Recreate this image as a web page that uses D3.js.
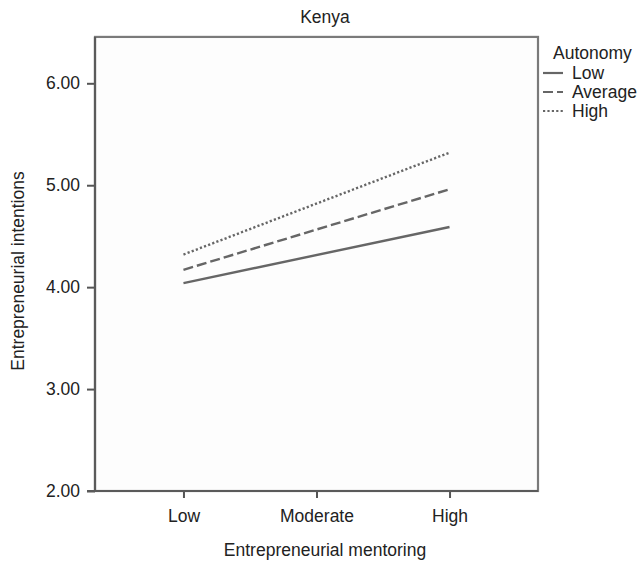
<!DOCTYPE html>
<html>
<head>
<meta charset="utf-8">
<script src="https://cdn.jsdelivr.net/npm/d3@7"></script>
<style>
  html, body { margin: 0; padding: 0; background: #ffffff; }
  svg { display: block; }
  text { font-family: "Liberation Sans", Arial, Helvetica, sans-serif; fill: #222; }
</style>
</head>
<body>
<svg id="chart" width="640" height="562"></svg>
<script>
// Simple-slopes data: entrepreneurial intentions by mentoring level, per autonomy level
const mentoringLevels = ["Low", "Moderate", "High"];
const autonomyLevels = ["Low", "Average", "High"];
const lowAutonomy = [4.04, null, 4.59];
const averageAutonomy = [4.17, null, 4.96];
const highAutonomy = [4.32, null, 5.32];
const yTicks = [2, 3, 4, 5, 6];
const chartTitle = "Kenya";
const xTitle = "Entrepreneurial mentoring";
const yTitle = "Entrepreneurial intentions";
const legendTitle = "Autonomy";

const seriesValues = [lowAutonomy, averageAutonomy, highAutonomy];
const dashes = [null, "10,4", "2.2,2.2"];

const svg = d3.select("#chart");
const fontSize = 17.5;

const x = d3.scalePoint().domain(mentoringLevels).range([95, 538]).padding(0.665);
const y = d3.scaleLinear().domain([2, 6]).range([491, 83.3]);
const yTop = 6.455;

// plot panel
svg.append("rect")
  .attr("x", 95).attr("y", y(yTop))
  .attr("width", 538 - 95).attr("height", y(2) - y(yTop))
  .attr("fill", "#fdfdfd")
  .attr("stroke", "#7a7a7a").attr("stroke-width", 2.2);

// y axis
const yAxis = d3.axisLeft(y).tickValues(yTicks).tickFormat(d3.format(".2f")).tickSize(8).tickPadding(7);
const gy = svg.append("g").attr("transform", "translate(95,0)").call(yAxis);
gy.select(".domain").remove();
gy.selectAll(".tick line").attr("stroke", "#555").attr("stroke-width", 2);
gy.selectAll(".tick text").attr("font-size", fontSize).attr("fill", "#222")
  .style("font-family", "'Liberation Sans', Arial, sans-serif");
svg.append("line").attr("x1", 95).attr("x2", 95).attr("y1", y(yTop)).attr("y2", y(2))
  .attr("stroke", "#5a5a5a").attr("stroke-width", 2.2);

// x axis
const xAxis = d3.axisBottom(x).tickSize(7).tickPadding(12);
const gx = svg.append("g").attr("transform", `translate(0,${y(2)})`).call(xAxis);
gx.select(".domain").remove();
gx.selectAll(".tick line").attr("stroke", "#555").attr("stroke-width", 2);
gx.selectAll(".tick text").attr("font-size", fontSize).attr("fill", "#222")
  .style("font-family", "'Liberation Sans', Arial, sans-serif");
svg.append("line").attr("x1", 87).attr("x2", 538).attr("y1", y(2)).attr("y2", y(2))
  .attr("stroke", "#5a5a5a").attr("stroke-width", 2.2);

// lines (drawn between the defined endpoints)
const line = d3.line()
  .defined(d => d.v != null)
  .x(d => x(d.k))
  .y(d => y(d.v));
seriesValues.forEach((vals, i) => {
  const pts = mentoringLevels.map((k, j) => ({ k, v: vals[j] })).filter(d => d.v != null);
  svg.append("path")
    .datum(pts)
    .attr("d", line)
    .attr("fill", "none")
    .attr("stroke", "#666")
    .attr("stroke-width", 2.4)
    .attr("stroke-dasharray", dashes[i]);
});

// titles
svg.append("text").attr("x", 325).attr("y", 23).attr("text-anchor", "middle")
  .attr("font-size", fontSize).text(chartTitle);
svg.append("text").attr("x", 325).attr("y", 556).attr("text-anchor", "middle")
  .attr("font-size", fontSize).text(xTitle);
svg.append("text").attr("transform", "translate(24,271) rotate(-90)").attr("text-anchor", "middle")
  .attr("font-size", fontSize).text(yTitle);

// legend
const lg = svg.append("g");
lg.append("text").attr("x", 553).attr("y", 59).attr("font-size", fontSize).text(legendTitle);
autonomyLevels.forEach((name, i) => {
  const yy = 73 + i * 19;
  lg.append("line").attr("x1", 543).attr("x2", 563).attr("y1", yy).attr("y2", yy)
    .attr("stroke", "#666").attr("stroke-width", 2.2)
    .attr("stroke-dasharray", dashes[i]);
  lg.append("text").attr("x", 572).attr("y", yy + 6).attr("font-size", fontSize).text(name);
});
</script>
</body>
</html>
